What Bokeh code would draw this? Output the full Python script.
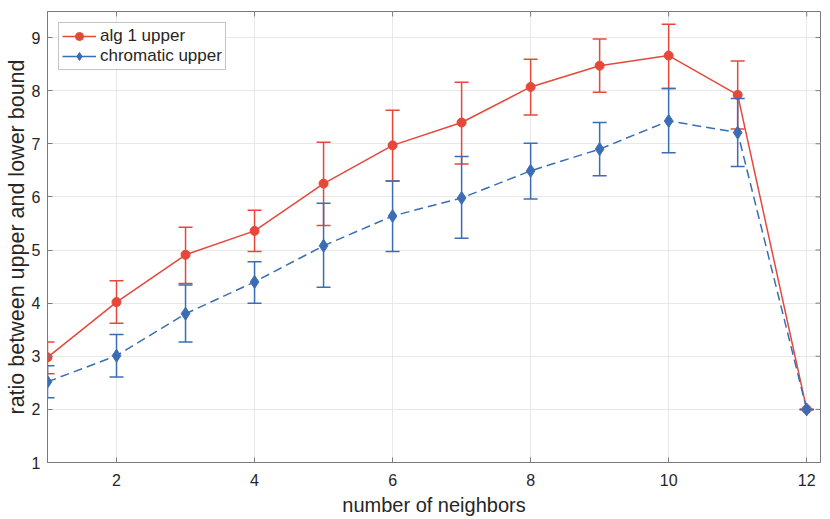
import math
from bokeh.plotting import figure
from bokeh.models import Range1d, FixedTicker, Legend, LegendItem, ColumnDataSource
from bokeh.embed import file_html
from bokeh.resources import INLINE

neighbors = [1, 2, 3, 4, 5, 6, 7, 8, 9, 10, 11, 12]

alg1_mean = [2.98, 4.02, 4.91, 5.36, 6.25, 6.97, 7.40, 8.07, 8.47, 8.66, 7.92, 2.00]
alg1_upper = [3.27, 4.42, 5.43, 5.75, 7.03, 7.63, 8.16, 8.59, 8.97, 9.25, 8.56, 2.00]
alg1_lower = [2.67, 3.62, 4.37, 4.97, 5.46, 6.30, 6.62, 7.54, 7.97, 8.04, 7.28, 2.00]

chrom_mean = [2.52, 3.01, 3.80, 4.40, 5.08, 5.64, 5.98, 6.49, 6.90, 7.43, 7.21, 2.00]
chrom_upper = [2.82, 3.41, 4.34, 4.78, 5.88, 6.30, 6.76, 7.01, 7.40, 8.04, 7.85, 2.00]
chrom_lower = [2.22, 2.61, 3.27, 4.00, 4.30, 4.97, 5.22, 5.96, 6.40, 6.83, 6.57, 2.00]

x_ticks = [2, 4, 6, 8, 10, 12]
y_ticks = [1, 2, 3, 4, 5, 6, 7, 8, 9]
x_lim = (1, 12.2)
y_lim = (1, 9.49)

RED = "#E5483A"
BLUE = "#3B6DB4"
FONT = "Liberation Sans"
AXC = "#7a7a7a"
TXT = "#262626"

p = figure(frame_width=773, frame_height=451, output_backend="svg", toolbar_location=None,
           x_range=Range1d(*x_lim), y_range=Range1d(*y_lim),
           min_border_left=47, min_border_right=2, min_border_top=11, min_border_bottom=56,
           background_fill_color="white", border_fill_color="white")
p.outline_line_color = AXC
p.outline_line_width = 1

for ax in (p.xaxis[0], p.yaxis[0]):
    ax.major_tick_in = 5
    ax.major_tick_out = 0
    ax.minor_tick_in = 0
    ax.minor_tick_out = 0
    ax.axis_line_color = AXC
    ax.major_tick_line_color = AXC
    ax.major_label_text_font = FONT
    ax.major_label_text_font_size = "16px"
    ax.major_label_text_color = TXT
    ax.axis_label_text_font = FONT
    ax.axis_label_text_font_style = "normal"
    ax.axis_label_text_color = TXT

p.xaxis[0].axis_label_text_font_size = "20px"
p.yaxis[0].axis_label_text_font_size = "21.5px"
p.xaxis[0].ticker = FixedTicker(ticks=x_ticks)
p.yaxis[0].ticker = FixedTicker(ticks=y_ticks)
p.xaxis[0].axis_label = "number of neighbors"
p.yaxis[0].axis_label = "ratio between upper and lower bound"
p.xaxis[0].major_label_standoff = 11
p.xaxis[0].axis_label_standoff = 5
p.yaxis[0].major_label_standoff = 7
p.yaxis[0].axis_label_standoff = 0

p.xgrid.ticker = FixedTicker(ticks=x_ticks)
p.ygrid.ticker = FixedTicker(ticks=y_ticks)
p.xgrid.grid_line_color = "#e8e8e8"
p.ygrid.grid_line_color = "#e8e8e8"

# inward ticks on the top and right edges of the box (half of each dash is clipped)
p.scatter(x=x_ticks, y=[y_lim[1]] * len(x_ticks), marker="dash", size=10, angle=math.pi / 2,
          line_color=AXC, line_width=1)
p.scatter(x=[x_lim[1]] * len(y_ticks), y=y_ticks, marker="dash", size=10,
          line_color=AXC, line_width=1)

src_a = ColumnDataSource(dict(x=neighbors, y=alg1_mean, up=alg1_upper, lo=alg1_lower))
src_c = ColumnDataSource(dict(x=neighbors, y=chrom_mean, up=chrom_upper, lo=chrom_lower))

# alg 1 upper
p.segment(x0="x", y0="lo", x1="x", y1="up", source=src_a, line_color=RED, line_width=1.5)
p.scatter(x="x", y="up", source=src_a, marker="dash", size=14, line_color=RED, line_width=1.5)
p.scatter(x="x", y="lo", source=src_a, marker="dash", size=14, line_color=RED, line_width=1.5)
la = p.line(x="x", y="y", source=src_a, line_color=RED, line_width=1.5)
ma = p.scatter(x="x", y="y", source=src_a, marker="circle", size=9, fill_color=RED, line_color=RED)

# chromatic upper
p.segment(x0="x", y0="lo", x1="x", y1="up", source=src_c, line_color=BLUE, line_width=1.5)
p.scatter(x="x", y="up", source=src_c, marker="dash", size=14, line_color=BLUE, line_width=1.5)
p.scatter(x="x", y="lo", source=src_c, marker="dash", size=14, line_color=BLUE, line_width=1.5)
lc = p.line(x="x", y="y", source=src_c, line_color=BLUE, line_width=1.5, line_dash="9 5")
mc = p.scatter(x="x", y="y", source=src_c, marker="diamond", size=13, fill_color=BLUE, line_color=BLUE)

# solid line used only for the legend swatch of the dashed series (no visible data)
lc_key = p.line(x=[float("nan")], y=[float("nan")], line_color=BLUE, line_width=1.5)

legend = Legend(items=[LegendItem(label="alg 1 upper", renderers=[la, ma]),
                       LegendItem(label="chromatic upper", renderers=[lc_key, mc])],
                location="top_left")
legend.margin = 11
legend.padding = 3
legend.spacing = 0
legend.glyph_width = 34
legend.glyph_height = 20
legend.label_height = 20
legend.label_standoff = 4
legend.label_text_font = FONT
legend.label_text_font_size = "17px"
legend.label_text_color = TXT
legend.border_line_color = "#8a8a8a"
legend.border_line_width = 1
legend.background_fill_color = "white"
legend.background_fill_alpha = 1
p.add_layout(legend, "center")

open("out.html", "w").write(file_html(p, INLINE))
